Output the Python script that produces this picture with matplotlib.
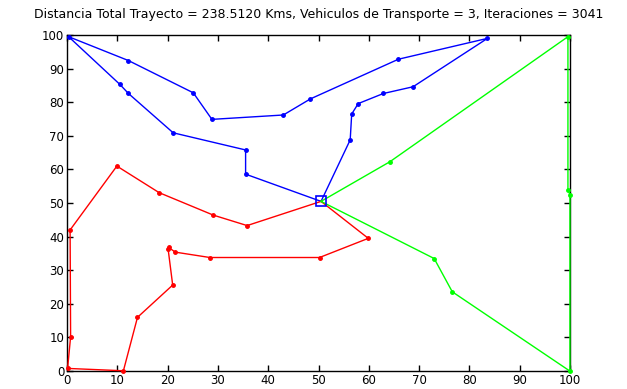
import numpy as np
import matplotlib
matplotlib.use("Agg")
import matplotlib.pyplot as plt

# Depot (central node)
depot = [50.5, 50.5]

# Route 1 (blue)
blueX = [35.5, 35.5, 21.1, 12.2, 10.5, 0.3, 12.2, 25.1, 28.8, 43.0, 48.4, 65.9, 83.6, 68.8, 62.9, 57.9, 56.6, 56.3]
blueY = [58.6, 65.8, 70.9, 82.6, 85.3, 99.5, 92.4, 82.8, 74.9, 76.2, 81.0, 92.8, 99.0, 84.6, 82.6, 79.6, 76.5, 68.8]

# Route 2 (red)
redX = [35.8, 29.1, 18.3, 9.9, 0.6, 0.7, 0.1, 11.2, 14.0, 21.0, 20.1, 20.2, 21.5, 28.4, 50.2, 59.9]
redY = [43.3, 46.4, 53.1, 61.0, 42.0, 10.2, 0.8, 0.1, 16.0, 25.6, 36.2, 36.8, 35.4, 33.8, 33.8, 39.5]

# Route 3 (green)
greenX = [64.2, 99.6, 99.6, 100.0, 100.0, 76.6, 73.0]
greenY = [62.3, 99.5, 54.0, 52.5, 0.0, 23.6, 33.5]

title = "Distancia Total Trayecto = 238.5120 Kms, Vehiculos de Transporte = 3, Iteraciones = 3041"

fig = plt.figure(figsize=(6.27, 3.89), dpi=100)
ax = fig.add_axes([0.107, 0.046, 0.802, 0.864])


def route(xs, ys, color):
    x = [depot[0]] + xs + [depot[0]]
    y = [depot[1]] + ys + [depot[1]]
    ax.plot(x, y, color=color, linewidth=1, clip_on=False, zorder=3)
    # markers only on the real stops, not on the edge bends
    ax.plot(xs, ys, linestyle='none', marker='o', markersize=2.5,
            color=color, clip_on=False, zorder=3)


route(blueX, blueY, (0, 0, 1))
route(redX, redY, (1, 0, 0))
route(greenX, greenY, (0, 1, 0))

ax.plot(depot[0], depot[1], marker='s', markersize=7, markerfacecolor='none',
        markeredgecolor=(0, 0, 1), markeredgewidth=1.2, zorder=4)

ax.set_xlim(0, 100)
ax.set_ylim(0, 100)
ax.set_xticks(np.arange(0, 101, 10))
ax.set_yticks(np.arange(0, 101, 10))
ax.tick_params(direction='in', top=True, right=True, length=4, width=1,
               labelsize=8.5, pad=2)
for s in ax.spines.values():
    s.set_linewidth(1)
ax.set_title(title, fontsize=9, pad=12)

fig.savefig("out.png", dpi=100)
